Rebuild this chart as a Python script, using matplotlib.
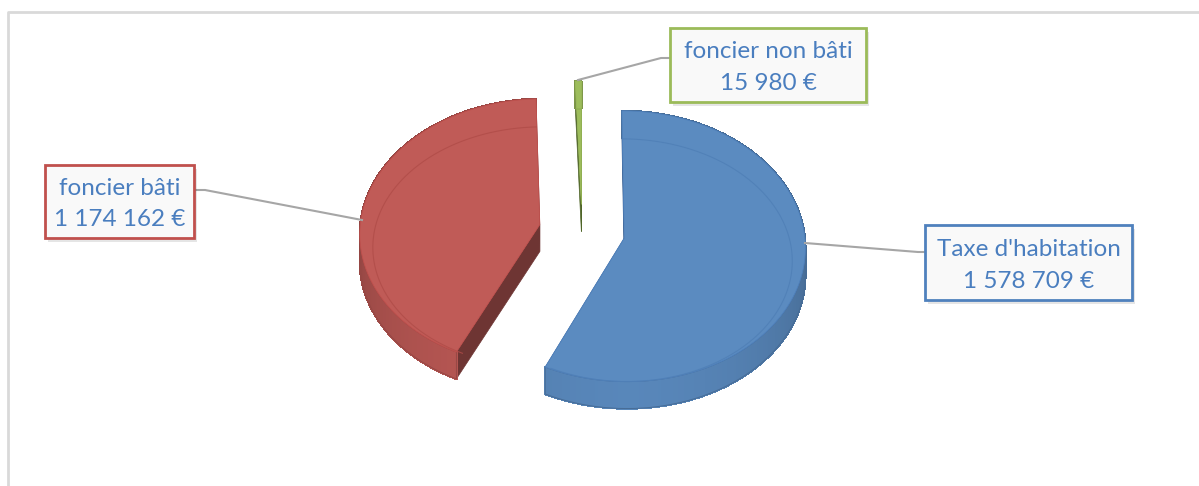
import numpy as np
import matplotlib
matplotlib.use("Agg")
import matplotlib.pyplot as plt
from matplotlib.patches import Polygon, Rectangle
from matplotlib.collections import PolyCollection
from matplotlib.colors import to_rgb

# ---- data ----
categories = ["Taxe d'habitation", "foncier bâti", "foncier non bâti"]
values = [1578709, 1174162, 15980]
value_labels = ["1 578 709 €", "1 174 162 €", "15 980 €"]

# ---- style ----
top_colors = ['#5b8bc0', '#c05b57', '#9dbd5c']
wall_base = ['#5b8bc0', '#c05b57', '#9dbd5c']
cut_colors = ['#3f628f', '#6e3533', '#4f6528']
bevel_colors = ['#4f7fb6', '#b04c48', '#8aa84f']
edge_colors = ['#4f81bd', '#c0504d', '#9bbb59']
text_color = '#4a7ebf'

W, H = 1199, 486
fig = plt.figure(figsize=(W / 100, H / 100), dpi=100)
ax = fig.add_axes([0, 0, 1, 1])
ax.set_xlim(0, W)
ax.set_ylim(H, 0)
ax.axis('off')

# chart frame
ax.plot([8, 8, W], [H, 12, 12], color='#d9d9d9', lw=2, solid_capstyle='butt')

cx, cy, rx, ry, depth, persp = 582, 231, 180, 134, 27, 0.06
explode = [0.24, 0.24, 0.20]

total = float(sum(values))
fr = np.array(values) / total
starts = np.concatenate([[0], np.cumsum(fr)[:-1]]) * 360
ends = np.cumsum(fr) * 360


def proj(u, v):
    u = np.asarray(u, float)
    v = np.asarray(v, float)
    den = 1 + persp * v
    return np.column_stack([cx + rx * u / den, cy - ry * v / den])


def shade(c, f):
    return tuple(np.clip(np.array(to_rgb(c)) * f, 0, 1))


order = [2, 1, 0]
for i in order:
    s, e = starts[i], ends[i]
    mid = np.radians((s + e) / 2)
    ou, ov = explode[i] * np.sin(mid), explode[i] * np.cos(mid)
    th = np.radians(np.linspace(s, e, 240))
    arc = proj(ou + np.sin(th), ov + np.cos(th))
    cen = proj([ou], [ov])[0]
    d = np.array([0, depth])
    # radial cut faces
    for a in (s, e):
        p = proj([ou + np.sin(np.radians(a))], [ov + np.cos(np.radians(a))])[0]
        ax.add_patch(Polygon([cen, p, p + d, cen + d], closed=True,
                             fc=cut_colors[i], ec=cut_colors[i], lw=0.5))
    # outer wall, shaded by angle (no antialiasing to avoid seams)
    quads, cols = [], []
    for k in range(len(th) - 1):
        p0, p1 = arc[k], arc[k + 1]
        quads.append([p0, p1, p1 + d, p0 + d])
        t = (th[k] + th[k + 1]) / 2
        f = 0.80 + 0.17 * max(0.0, -np.cos(t)) - 0.04 * abs(np.sin(t))
        cols.append(shade(wall_base[i], f))
    ax.add_collection(PolyCollection(quads, facecolors=cols, edgecolors=cols,
                                     linewidths=1.0, antialiaseds=False))
    outline = np.vstack([arc, (arc + d)[::-1]])
    ax.add_patch(Polygon(outline, closed=True, fill=False,
                         ec=shade(wall_base[i], 0.78), lw=0.7))
    # top face
    ax.add_patch(Polygon(np.vstack([cen, arc]), closed=True,
                         fc=top_colors[i], ec=edge_colors[i], lw=0.6))
    # bevel line
    cth = np.cos(th)
    bev = np.column_stack([cen[0] + (arc[:, 0] - cen[0]) * (1 - 13 / rx),
                           arc[:, 1] + 14 * (1 + cth)])
    ax.plot(bev[:, 0], bev[:, 1], color=bevel_colors[i], lw=0.8, alpha=0.8)

# ---- labels ----
boxes = {
    0: (925, 225, 207, 75),
    1: (45, 165, 149, 73),
    2: (670, 28, 196, 74),
}
leaders = {
    0: [(805, 243), (918, 252), (925, 252)],
    1: [(362, 220), (205, 190), (194, 190)],
    2: [(578, 80), (661, 58), (670, 58)],
}
for i in range(3):
    xs, ys = zip(*leaders[i])
    ax.plot(xs, ys, color='#a6a6a6', lw=1.5, zorder=3)
    x, y, w, h = boxes[i]
    ax.add_patch(Rectangle((x + 3, y + 4), w, h, fc='#000000', alpha=0.10, ec='none', zorder=4))
    ax.add_patch(Rectangle((x, y), w, h, fc='#f9f9f9', ec=edge_colors[i], lw=2, zorder=5))
    ax.text(x + w / 2, y + h * 0.32, categories[i], ha='center', va='center',
            color=text_color, fontsize=17.5, family='Lato', zorder=6)
    ax.text(x + w / 2, y + h * 0.75, value_labels[i], ha='center', va='center',
            color=text_color, fontsize=17.5, family='Lato', zorder=6)

fig.savefig('out.png', dpi=100, facecolor='white')
